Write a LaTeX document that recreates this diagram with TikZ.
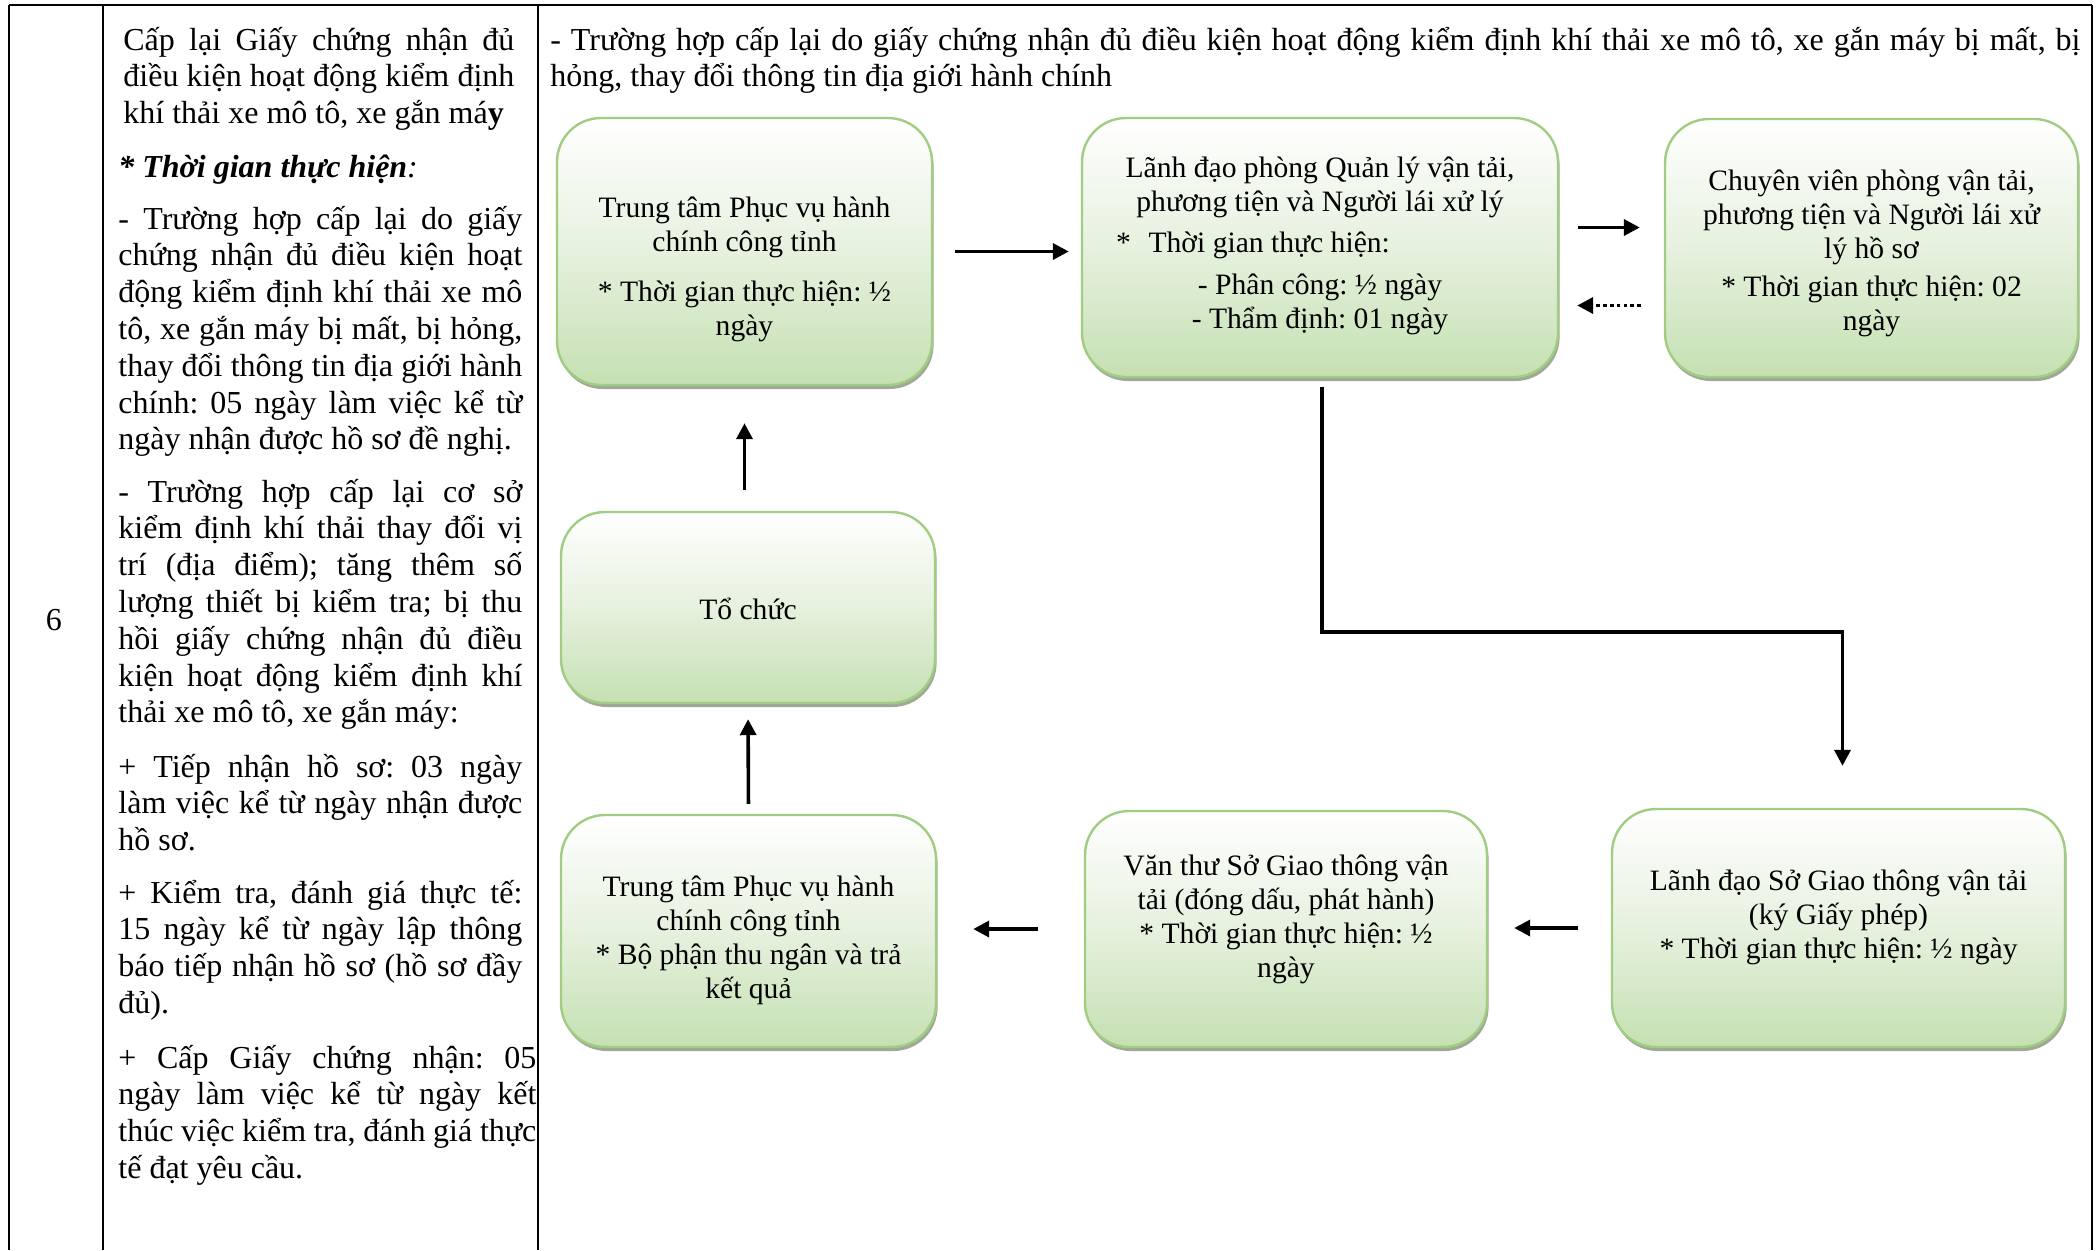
\documentclass[tikz,border=0pt]{standalone}
\usepackage{fontspec}
\setmainfont{Liberation Serif}
\usetikzlibrary{arrows.meta, shadows}

\definecolor{boxline}{RGB}{160,205,130}
\definecolor{boxmid}{RGB}{230,241,222}
\definecolor{boxbottom}{RGB}{197,224,178}
\definecolor{shadowgray}{RGB}{150,158,140}

\frenchspacing
\hyphenpenalty=10000
\exhyphenpenalty=10000
\tolerance=9999
\lineskiplimit=-5pt

\newcommand{\stagefont}{\fontsize{14.8}{17}\selectfont}
\newcommand{\cellfont}{\fontsize{16}{18.4}\selectfont}
% first baseline of the box text raised #1 above the box centre
\newcommand{\stagetext}[2]{\makebox[0pt]{\raisebox{#1}[0pt][0pt]{\parbox[t]{240pt}{\centering #2}}}}

\begin{document}
\begin{tikzpicture}[x=0.5pt, y=-0.5pt]

\tikzset{stage/.style = {shape=rectangle, rounded corners=22pt, draw=boxline, line width=1.2pt,
  top color=white, bottom color=boxbottom, middle color=boxmid,
  drop shadow={shadow xshift=0.8pt, shadow yshift=-2pt, fill=shadowgray, opacity=0.9},
  font=\stagefont, inner sep=0pt}}
\tikzset{edge/.style = {-{Triangle[length=8pt,width=8pt]}, line width=1.8pt}}
\tikzset{cell/.style = {anchor=base west, inner sep=0pt, align=justify, text width=202pt, font=\cellfont}}

\useasboundingbox (0,0) rectangle (2098,1250);
%table
\draw[line width=1pt] (9,5) -- (2092,5);
\foreach \x in {9,103,538,2092}
  \draw[line width=1pt] (\x,5) -- (\x,1250);

%text
\node[font=\cellfont] (num) at (54,620) {6};
\node[cell, text width=195.5pt] (p1) at (123,50) {Cấp lại Giấy chứng nhận đủ\linebreak điều kiện hoạt động kiểm định\linebreak khí thải xe mô tô, xe gắn má\textbf{y}};
\node[cell] (title) at (118,177) {\textbf{\textit{* Thời gian thực hiện}}\textit{:}};
\node[cell] (p2) at (118,229) {- Trường hợp cấp lại do giấy\linebreak chứng nhận đủ điều kiện hoạt\linebreak động kiểm định khí thải xe mô\linebreak tô, xe gắn máy bị mất, bị hỏng,\linebreak thay đổi thông tin địa giới hành\linebreak chính: 05 ngày làm việc kể từ\linebreak ngày nhận được hồ sơ đề nghị.};
\node[cell] (p3) at (118,502) {- Trường hợp cấp lại cơ sở\linebreak kiểm định khí thải thay đổi vị\linebreak trí (địa điểm); tăng thêm số\linebreak lượng thiết bị kiểm tra; bị thu\linebreak hồi giấy chứng nhận đủ điều\linebreak kiện hoạt động kiểm định khí\linebreak thải xe mô tô, xe gắn máy:};
\node[cell] (p4) at (118,777) {+ Tiếp nhận hồ sơ: 03 ngày\linebreak làm việc kể từ ngày nhận được\linebreak hồ sơ.};
\node[cell] (p5) at (118,903) {+ Kiểm tra, đánh giá thực tế:\linebreak 15 ngày kể từ ngày lập thông\linebreak báo tiếp nhận hồ sơ (hồ sơ đầy\linebreak đủ).};
\node[cell, text width=209pt] (p6) at (118,1068) {+ Cấp Giấy chứng nhận: 05\linebreak ngày làm việc kể từ ngày kết\linebreak thúc việc kiểm tra, đánh giá thực\linebreak tế đạt yêu cầu.};
\node[cell, text width=765pt] (head) at (550,50) {- Trường hợp cấp lại do giấy chứng nhận đủ điều kiện hoạt động kiểm định khí thải xe mô tô, xe gắn máy bị mất, bị\linebreak hỏng, thay đổi thông tin địa giới hành chính};

%boxes
\node[stage, minimum width=187.5pt, minimum height=133.5pt] (1) at (744.5,251.5) {\stagetext{16.8pt}{Trung tâm Phục vụ hành\\chính công tỉnh\\[7.7pt]* Thời gian thực hiện: ½\\ngày}};
\node[stage, minimum width=238pt, minimum height=129.5pt] (2) at (1320,247.5) {\stagetext{35.1pt}{Lãnh đạo phòng Quản lý vận tải,\\phương tiện và Người lái xử lý\\[3.7pt]\makebox[204pt][l]{*\hspace{0.6em}Thời gian thực hiện:}\\[3.7pt]- Phân công: ½ ngày\\- Thẩm định: 01 ngày}};
\node[stage, minimum width=206.5pt, minimum height=129pt] (3) at (1871.5,248) {\stagetext{29pt}{Chuyên viên phòng vận tải,\\phương tiện và Người lái xử\\lý hồ sơ\\[2.4pt]* Thời gian thực hiện: 02\\ngày}};
\node[stage, minimum width=226.5pt, minimum height=119pt] (4) at (1838.5,928) {\stagetext{18.7pt}{Lãnh đạo Sở Giao thông vận tải\\(ký Giấy phép)\\{}* Thời gian thực hiện: ½ ngày}};
\node[stage, minimum width=201pt, minimum height=118pt] (5) at (1286,929) {\stagetext{27pt}{Văn thư Sở Giao thông vận\\tải (đóng dấu, phát hành)\\{}* Thời gian thực hiện: ½\\ngày}};
\node[stage, minimum width=187.5pt, minimum height=116pt] (6) at (748.5,931) {\stagetext{17.4pt}{Trung tâm Phục vụ hành\\chính công tỉnh\\{}* Bộ phận thu ngân và trả\\kết quả}};
\node[stage, minimum width=187pt, minimum height=95.5pt] (7) at (748,607.5) {\stagetext{-6.2pt}{Tổ chức}};
\coordinate (bend) at (1322,632);

%arrows
\draw[edge, shorten <=11pt, shorten >=6pt] (1.east) -- (1.east -| 2.west);
\draw[edge, shorten <=9.5pt, shorten >=12pt] ([yshift=10pt]2.east) -- ([yshift=10pt]2.east -| 3.west);
\draw[edge, dash pattern=on 1.8pt off 1.6pt, shorten <=11.5pt, shorten >=9pt] ([yshift=-29pt]2.east -| 3.west) -- ([yshift=-29pt]2.east);
\draw[edge, shorten <=4.5pt, shorten >=21pt] (2.south -| bend) -- (bend) -| ([xshift=2pt]4.north);
\draw[edge, shorten <=16.5pt, shorten >=13pt] (4.west) -- (4.west -| 5.east);
\draw[edge, shorten <=23pt, shorten >=18pt] (5.west) -- (5.west -| 6.east);
\draw[edge, shorten <=5pt, shorten >=7.5pt] (6.north) -- (7.south);
\draw[edge, shorten <=10.5pt, shorten >=18.5pt] (1.south |- 7.north) -- (1.south);

\end{tikzpicture}
\end{document}
